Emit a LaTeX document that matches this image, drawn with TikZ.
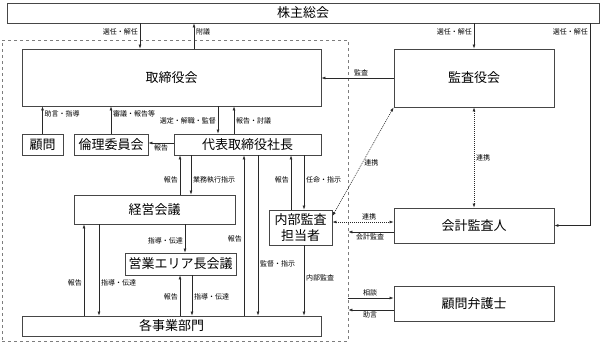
\documentclass[tikz,border=0pt]{standalone}
\usepackage{fontspec}
\setmainfont{Noto Sans CJK JP}
\usetikzlibrary{arrows.meta}
\definecolor{FrameGray}{RGB}{125,125,125}
\definecolor{BoxLine}{RGB}{70,70,70}
\definecolor{ArrowInk}{RGB}{40,40,40}
\tikzset{
  box/.style={draw=BoxLine,line width=0.9pt,fill=white,inner sep=0pt,
    align=center,font=\fontsize{13}{16}\selectfont},
  flow/.style={-{Latex[length=4pt,width=3pt]},line width=0.6pt,draw=ArrowInk},
  linkflow/.style={{Latex[length=4pt,width=3pt]}-{Latex[length=4pt,width=3pt]},
    line width=0.6pt,dash pattern=on 1pt off 1pt,draw=ArrowInk},
  lbl/.style={font=\fontsize{7}{9}\selectfont,inner sep=1.8pt,text=black},
  frame/.style={draw=FrameGray,line width=0.8pt,dashed,inner sep=0pt}
}

\begin{document}
\begin{tikzpicture}[x=1pt,y=-1pt]
  \useasboundingbox (0,0) rectangle (602,343);
  % company frame
  \node[frame,minimum width=346pt,minimum height=301pt] (company) at (175,190.5) {};
  % boxes
  \node[box,minimum width=592pt,minimum height=20pt] (soukai) at (303,13) {株主総会};
  \node[box,minimum width=299pt,minimum height=57pt] (board) at (171.5,77.5) {取締役会};
  \node[box,minimum width=160pt,minimum height=58pt] (auditors) at (474,78) {監査役会};
  \node[box,minimum width=41pt,minimum height=21pt] (advisor) at (42.5,144.5) {顧問};
  \node[box,minimum width=74pt,minimum height=21pt] (ethics) at (111,144.5) {倫理委員会};
  \node[box,minimum width=147pt,minimum height=21pt] (ceo) at (247.5,144.5) {代表取締役社長};
  \node[box,minimum width=161pt,minimum height=29pt] (mgmt) at (154.5,209.5) {経営会議};
  \node[box,minimum width=63pt,minimum height=35pt] (internal) at (300.5,227.5) {内部監査\\担当者};
  \node[box,minimum width=111pt,minimum height=22pt] (area) at (180.5,264) {営業エリア長会議};
  \node[box,minimum width=299pt,minimum height=20pt] (divisions) at (171.5,326) {各事業部門};
  \node[box,minimum width=160pt,minimum height=35pt] (accountant) at (474,225.5) {会計監査人};
  \node[box,minimum width=160pt,minimum height=35pt] (lawyer) at (474,303.5) {顧問弁護士};
  % shareholders
  \draw[flow] (soukai.south -| 140,0) -- (board.north -| 140,0) node[lbl,pos=0.35,left] {選任・解任};
  \draw[flow] (board.north -| 194,0) -- (soukai.south -| 194,0) node[lbl,pos=0.65,right] {附議};
  \draw[flow] (soukai.south -| auditors.north) -- (auditors.north) node[lbl,pos=0.35,left] {選任・解任};
  \draw[flow] (soukai.south -| 590,0) |- (accountant.east) node[lbl,pos=0.022,left] {選任・解任};
  \draw[flow] (auditors.west) -- (auditors.west -| board.east) node[lbl,pos=0.45,above] {監査};
  % board
  \draw[flow] (advisor.north) -- (advisor.north |- board.south) node[lbl,pos=0.71,right] {助言・指導};
  \draw[flow] (ethics.north) -- (ethics.north |- board.south) node[lbl,pos=0.71,right] {審議・報告等};
  \draw[flow] (board.south -| 218,0) -- (ceo.north -| 218,0) node[lbl,pos=0.52,left] {選定・解職・監督};
  \draw[flow] (ceo.north -| 234,0) -- (board.south -| 234,0) node[lbl,pos=0.48,right] {報告・討議};
  \draw[flow] (ceo.west |- 0,143) -- (ethics.east |- 0,143) node[lbl,pos=0.5,below] {報告};
  % president
  \draw[flow] (mgmt.north -| 180,0) -- (ceo.south -| 180,0) node[lbl,pos=0.375,left] {報告};
  \draw[flow] (ceo.south -| 191,0) -- (mgmt.north -| 191,0) node[lbl,pos=0.625,right] {業務執行指示};
  \draw[flow] (divisions.north -| 244,0) -- (ceo.south -| 244,0) node[lbl,pos=0.48,left] {報告};
  \draw[flow] (ceo.south -| 258,0) -- (divisions.north -| 258,0) node[lbl,pos=0.68,right] {監督・指示};
  \draw[flow] (internal.north -| 291,0) -- (ceo.south -| 291,0) node[lbl,pos=0.55,left] {報告};
  \draw[flow] (ceo.south -| 304,0) -- (internal.north -| 304,0) node[lbl,pos=0.45,right] {任命・指示};
  \draw[flow] (internal.south -| 304,0) -- (divisions.north -| 304,0) node[lbl,pos=0.46,right] {内部監査};
  % management meeting
  \draw[flow] (divisions.north -| 84,0) -- (mgmt.south -| 84,0) node[lbl,pos=0.36,left] {報告};
  \draw[flow] (mgmt.south -| 99,0) -- (divisions.north -| 99,0) node[lbl,pos=0.64,right] {指導・伝達};
  \draw[flow] (mgmt.south -| 185,0) -- (area.north -| 185,0) node[lbl,pos=0.57,left] {指導・伝達};
  \draw[flow] (divisions.north -| 180,0) -- (area.south -| 180,0) node[lbl,pos=0.46,left] {報告};
  \draw[flow] (area.south -| 192,0) -- (divisions.north -| 192,0) node[lbl,pos=0.54,right] {指導・伝達};
  % cooperation
  \draw[linkflow] (auditors.south west) -- (internal.east |- 0,216) node[lbl,pos=0.51,right] {連携};
  \draw[linkflow] (auditors.south) -- (accountant.north) node[lbl,pos=0.5,right] {連携};
  \draw[linkflow] (internal.east |- 0,222) -- (accountant.west |- 0,222) node[lbl,pos=0.6,above] {連携};
  \draw[flow] (accountant.west |- 0,232) -- (company.east |- 0,232) node[lbl,pos=0.52,below] {会計監査};
  \draw[flow] (company.east |- 0,298) -- (lawyer.west |- 0,298) node[lbl,pos=0.48,above] {相談};
  \draw[flow] (lawyer.west |- 0,310) -- (company.east |- 0,310) node[lbl,pos=0.52,below] {助言};
\end{tikzpicture}
\end{document}
